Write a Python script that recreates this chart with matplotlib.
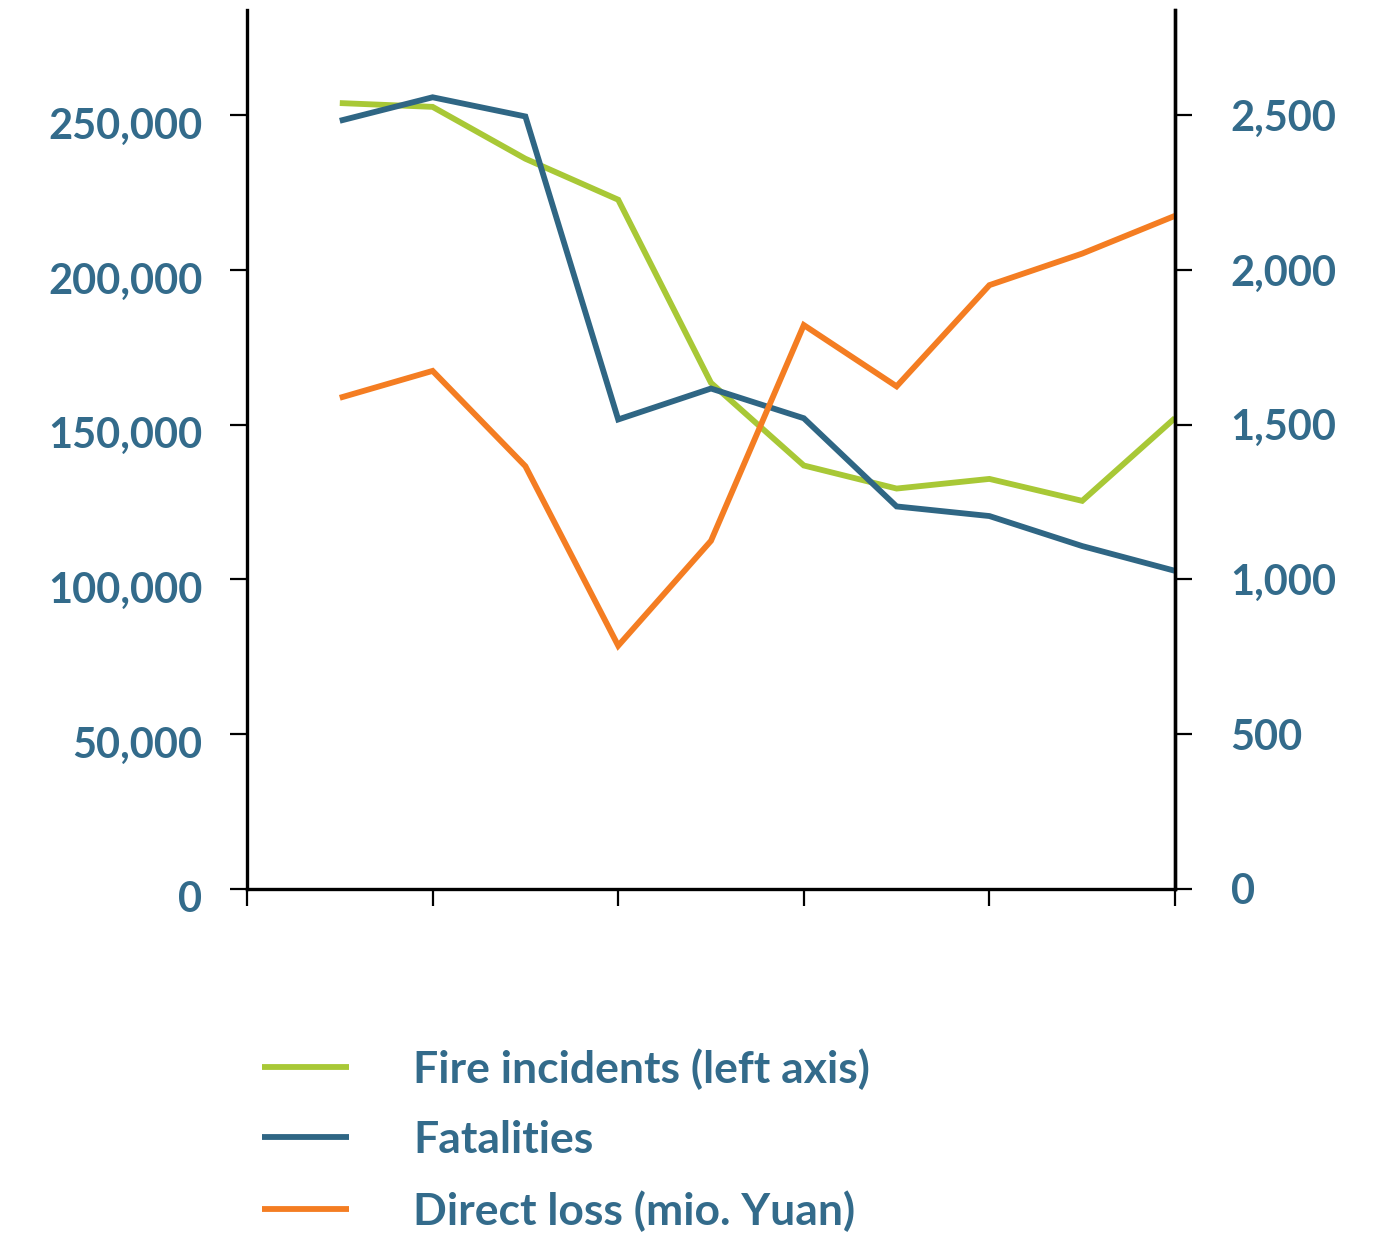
import matplotlib
matplotlib.use('agg')
import matplotlib.pyplot as plt
import matplotlib.transforms as mtransforms

# China fire statistics 2003-2012
years = [2003, 2004, 2005, 2006, 2007, 2008, 2009, 2010, 2011, 2012]
fires = [253932, 252704, 235941, 222702, 163521, 136835, 129382, 132497, 125402, 152157]
fatalities = [2482, 2558, 2496, 1517, 1617, 1521, 1236, 1205, 1108, 1028]
loss = [1587, 1674, 1366, 786, 1125, 1822, 1624, 1951, 2053, 2175]

left_ticks = [0, 50000, 100000, 150000, 200000, 250000]
right_ticks = [0, 500, 1000, 1500, 2000, 2500]

green = '#a8c836'
blue = '#2f6684'
orange = '#f47d22'
txt = '#336b8b'

plt.rcParams['font.family'] = ['Lato', 'DejaVu Sans']
plt.rcParams['font.weight'] = 'bold'

fig = plt.figure(figsize=(13.86, 12.38), dpi=100)
ax = fig.add_axes([247/1386, 1-889/1238, (1175-247)/1386, (889-10)/1238])
ax2 = ax.twinx()

xs = list(range(1, len(years) + 1))
lw = 4.2
l1, = ax.plot(xs, fires, color=green, lw=lw, solid_capstyle='butt', solid_joinstyle='miter')
l2, = ax2.plot(xs, fatalities, color=blue, lw=lw, solid_capstyle='butt', solid_joinstyle='miter')
l3, = ax2.plot(xs, loss, color=orange, lw=lw, solid_capstyle='butt', solid_joinstyle='miter')

ax.set_xlim(0, 10)
ax.set_ylim(0, 284000)
ax2.set_ylim(0, 2840)

ax.set_xticks([0, 2, 4, 6, 8, 10])
ax.set_xticklabels([])
ax.set_yticks(left_ticks)
ax.set_yticklabels([f'{v:,}' for v in left_ticks])
ax2.set_yticks(right_ticks)
ax2.set_yticklabels([f'{v:,}' for v in right_ticks])

for a in (ax, ax2):
    a.spines['top'].set_visible(False)
    for s in a.spines.values():
        s.set_linewidth(2.4)
        s.set_color('black')
ax2.spines['left'].set_visible(False)
ax2.spines['bottom'].set_visible(False)

ax.tick_params(axis='x', direction='out', length=12, width=1.6, color='black')
ax.tick_params(axis='y', direction='out', length=12, width=1.6, color='black',
               labelsize=30, labelcolor=txt, pad=20)
ax2.tick_params(axis='y', direction='out', length=12, width=1.6, color='black',
                labelsize=30, labelcolor=txt, pad=28)

# left labels sit a little below their ticks in the original
shift = mtransforms.ScaledTranslation(0, -8/100, fig.dpi_scale_trans)
for lab in ax.get_yticklabels():
    lab.set_transform(lab.get_transform() + shift)

fig.legend([l1, l2, l3],
           ['Fire incidents (left axis)', 'Fatalities', 'Direct loss (mio. Yuan)'],
           loc='upper left', bbox_to_anchor=(262/1386, 1-1048/1238),
           frameon=False, fontsize=32, labelcolor=txt,
           handlelength=1.95, handletextpad=1.45, labelspacing=0.68,
           borderaxespad=0, borderpad=0)

fig.savefig('out.png', dpi=100)
